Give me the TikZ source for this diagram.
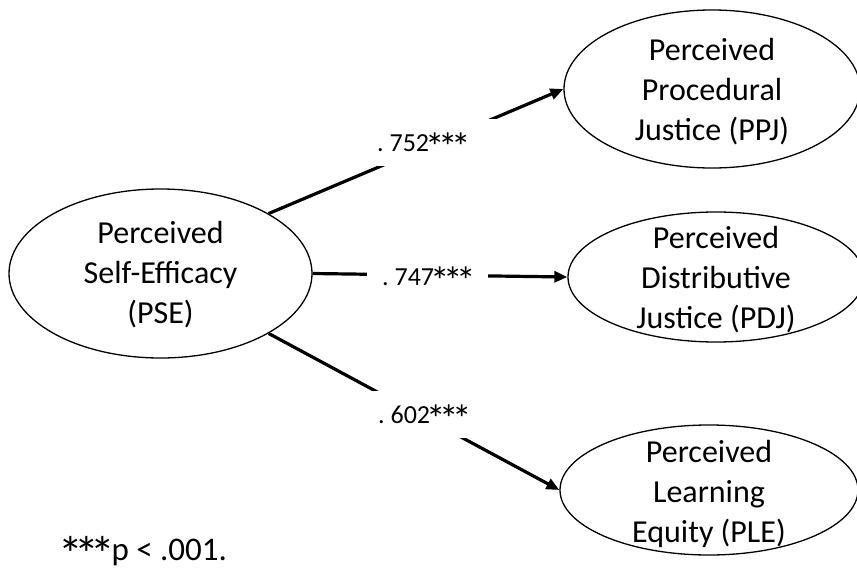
\documentclass[tikz,border=0pt]{standalone}
\usepackage{fontspec}
\usepackage{graphicx}
\setmainfont{Carlito}
\usetikzlibrary{shapes.geometric,arrows.meta}
% a fuller asterisk for significance stars
\newcommand{\sigstar}{\makebox[0.498em][c]{\raisebox{-0.35em}{\scalebox{1.5}{*}}}}
\newcommand{\sigstars}{\sigstar\sigstar\sigstar}
\begin{document}
\frenchspacing
\begin{tikzpicture}[x=1pt,y=-1pt,
  ell/.style={draw,ellipse,line width=1.3pt,inner sep=0pt},
  vname/.style={align=center,anchor=base,inner sep=0pt,
    font=\fontsize{32}{40}\selectfont},
  path/.style={line width=3.2pt,-{Triangle[length=13pt,width=11pt]}},
  lbl/.style={fill=white,anchor=base west,inner sep=0pt,
    text height=32pt,text depth=15pt,font=\fontsize{26}{30}\selectfont}]
\useasboundingbox (0,0) rectangle (857,570);

% latent variables
\node[ell,minimum width=303pt,minimum height=169pt] (pse) at (160.5,273.5) {};
\node[ell,minimum width=296pt,minimum height=158pt] (ppj) at (712,89) {};
\node[ell,minimum width=296pt,minimum height=130pt] (pdj) at (716,277) {};
\node[ell,minimum width=298pt,minimum height=130pt] (ple) at (709,490) {};

% names, placed by the baseline of their last line
\node[vname] (tpse) at (160.5,323) {Perceived\\Self-Efficacy\\(PSE)};
\node[vname] (tppj) at (712,140) {Perceived\\Procedural\\Justice (PPJ)};
\node[vname] (tpdj) at (716,328) {Perceived\\Distributive\\Justice (PDJ)};
\node[vname] (tple) at (709,542) {Perceived\\Learning\\Equity (PLE)};

% structural paths
\draw[path] (pse.29) -- (ppj.west);
\draw[path] (pse.east) -- (pdj.west);
\draw[path] (pse.-29) -- (ple.west);

% path coefficients, each on a white box that breaks its path
\node[lbl] (c1) at (362,151) {\makebox[143pt][l]{\hspace*{15pt}. 752\sigstars}};
\node[lbl] (c2) at (367,285) {\makebox[121pt][l]{\hspace*{15pt}. 747\sigstars}};
\node[lbl] (c3) at (363,423) {\makebox[120pt][l]{\hspace*{15pt}. 602\sigstars}};

% significance note
\node[anchor=base west,inner sep=0pt,font=\fontsize{33}{40}\selectfont] (note) at (62,560) {\sigstars p < .001.};
\end{tikzpicture}
\end{document}
